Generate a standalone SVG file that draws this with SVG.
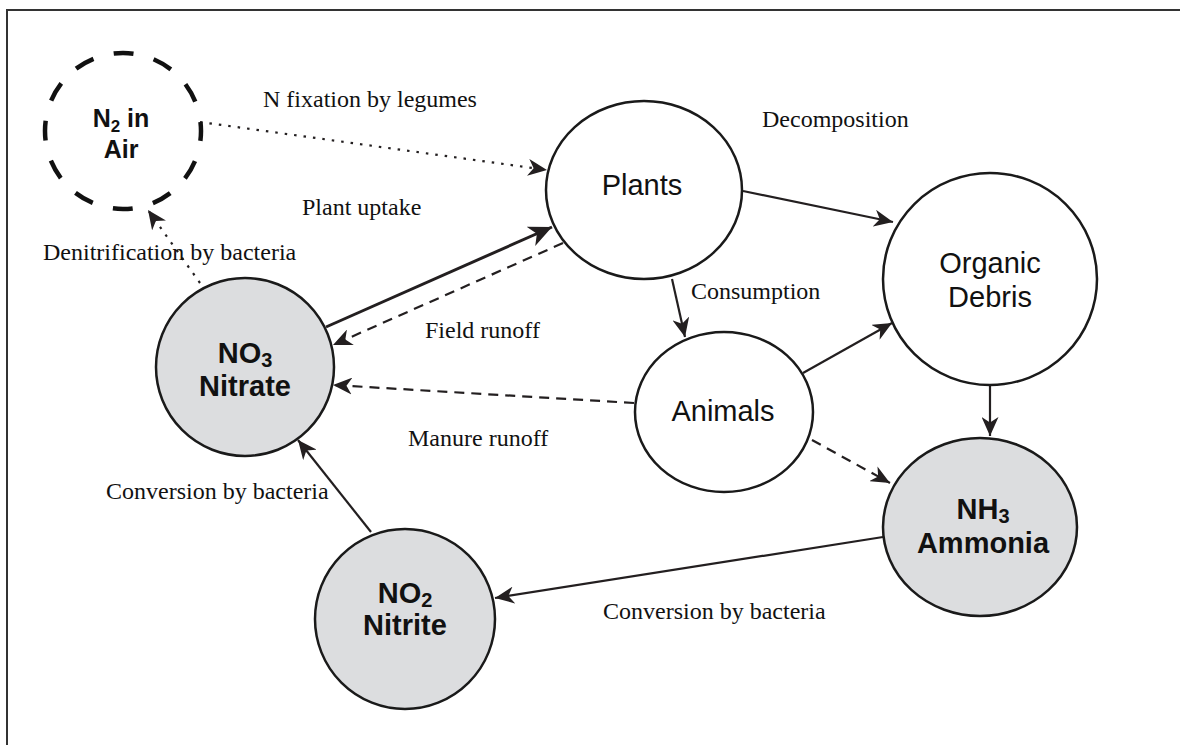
<svg xmlns="http://www.w3.org/2000/svg" width="1180" height="745" viewBox="0 0 1180 745">
<style>
.node{stroke:#1a1a1a;stroke-width:2.5;fill:#fff}
.gray{fill:#dcdddf}
.nt{font-family:"Liberation Sans",Arial,sans-serif;font-size:29px;fill:#111;text-anchor:middle}
.bold{font-weight:bold}
.lbl{font-family:"Liberation Serif","Times New Roman",serif;font-size:24px;fill:#111}
.c{stroke:#231f20;stroke-width:2.2;fill:none}
.dash{stroke-dasharray:10 7}
.dot{stroke-dasharray:2.5 7}
</style>
<defs>
<marker id="ah" markerUnits="userSpaceOnUse" markerWidth="21" markerHeight="17" refX="19" refY="8.5" orient="auto" viewBox="0 0 21 17">
<path d="M0,0 L19,8.5 L0,17 L5.5,8.5 Z" fill="#231f20"/>
</marker>
<marker id="ahb" markerUnits="userSpaceOnUse" markerWidth="25" markerHeight="21" refX="23" refY="10.5" orient="auto" viewBox="0 0 25 21">
<path d="M0,0 L23,10.5 L0,21 L6.5,10.5 Z" fill="#231f20"/>
</marker>
</defs>
<rect x="7" y="10" width="1200" height="800" fill="none" stroke="#333" stroke-width="2"/>
<g id="connectors">
<path class="c dot" d="M200,122 L547,170" marker-end="url(#ah)"/>
<path class="c dot" d="M200,283 L148,210" marker-end="url(#ah)"/>
<path class="c" style="stroke-width:3" d="M326,327 L552,227" marker-end="url(#ahb)"/>
<path class="c dash" d="M563,243 L333,345" marker-end="url(#ah)"/>
<path class="c" d="M743,191 L893,222" marker-end="url(#ah)"/>
<path class="c" d="M672,279 L685,337" marker-end="url(#ah)"/>
<path class="c" d="M803,373 L892,323" marker-end="url(#ah)"/>
<path class="c" d="M990,385 L990,436" marker-end="url(#ah)"/>
<path class="c dash" d="M812,440 L890,483" marker-end="url(#ah)"/>
<path class="c dash" d="M634,403 L333,385" marker-end="url(#ah)"/>
<path class="c" d="M371,532 L298,440" marker-end="url(#ah)"/>
<path class="c" d="M883,537 L495,598" marker-end="url(#ah)"/>
</g>
<g id="n2">
<circle cx="123" cy="131" r="78" fill="none" stroke="#111" stroke-width="4.5" stroke-dasharray="20 20.84" stroke-dashoffset="10"/>
<text class="nt bold" style="font-size:25px" x="121" y="127">N<tspan font-size="17" dy="5">2</tspan><tspan dy="-5"> in</tspan></text>
<text class="nt bold" style="font-size:25px" x="121" y="158">Air</text>
</g>
<g id="plants">
<ellipse class="node" cx="644" cy="190" rx="98" ry="89"/>
<text class="nt" x="642" y="195">Plants</text>
</g>
<g id="debris">
<ellipse class="node" cx="990" cy="279" rx="107" ry="106"/>
<text class="nt" x="990" y="273">Organic</text>
<text class="nt" x="990" y="307">Debris</text>
</g>
<g id="animals">
<ellipse class="node" cx="724" cy="412" rx="89" ry="80"/>
<text class="nt" x="723" y="421">Animals</text>
</g>
<g id="no3">
<circle class="node gray" cx="245" cy="367" r="89"/>
<text class="nt bold" x="245" y="363">NO<tspan font-size="20" dy="4">3</tspan></text>
<text class="nt bold" x="245" y="396">Nitrate</text>
</g>
<g id="nh3">
<ellipse class="node gray" cx="980" cy="527" rx="97" ry="89"/>
<text class="nt bold" x="983" y="519">NH<tspan font-size="20" dy="4">3</tspan></text>
<text class="nt bold" x="983" y="553">Ammonia</text>
</g>
<g id="no2">
<circle class="node gray" cx="405" cy="619" r="90"/>
<text class="nt bold" x="405" y="603">NO<tspan font-size="20" dy="4">2</tspan></text>
<text class="nt bold" x="405" y="635">Nitrite</text>
</g>
<g id="labels">
<text class="lbl" x="263" y="107">N fixation by legumes</text>
<text class="lbl" x="302" y="215">Plant uptake</text>
<text class="lbl" x="43" y="260">Denitrification by bacteria</text>
<text class="lbl" x="425" y="338">Field runoff</text>
<text class="lbl" x="762" y="127">Decomposition</text>
<text class="lbl" x="691" y="299">Consumption</text>
<text class="lbl" x="408" y="446">Manure runoff</text>
<text class="lbl" x="106" y="499">Conversion by bacteria</text>
<text class="lbl" x="603" y="619">Conversion by bacteria</text>
</g>
</svg>
